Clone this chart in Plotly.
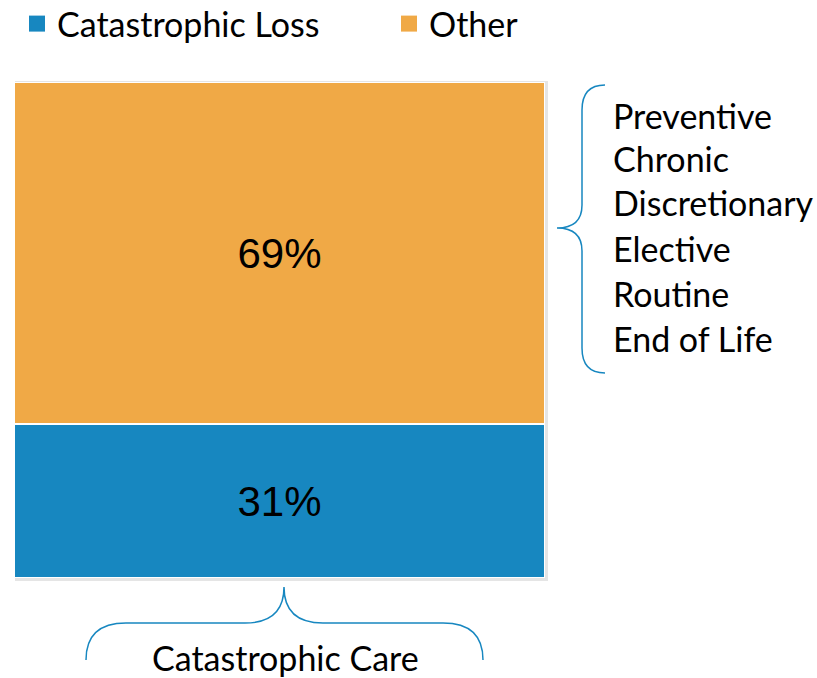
import plotly.graph_objects as go

categories = ["Spend"]
series_names = ["Catastrophic Loss", "Other"]
series_values = [31, 69]
series_colors = ["#1787C0", "#F0A946"]
other_items = ["Preventive", "Chronic", "Discretionary", "Elective", "Routine", "End of Life"]
bottom_label = "Catastrophic Care"

W, H = 817, 678
L, R, T, B = 14, 272, 82, 100
PW, PH = W - L - R, H - T - B

def px(x):
    return (x - L) / PW

def py(y):
    return (H - B - y) / PH

def path(cmds):
    out = []
    for c in cmds:
        if isinstance(c, str):
            out.append(c)
        else:
            out.append(f"{px(c[0]):.5f},{py(c[1]):.5f}")
    return " ".join(out)

FONT = "Lato, Open Sans"

fig = go.Figure()
for name, val, col in zip(series_names, series_values, series_colors):
    fig.add_trace(go.Bar(
        x=categories, y=[val], name=name, showlegend=False,
        marker=dict(color=col, line=dict(color="white", width=2)),
        text=[f"{val}%"], textposition="inside", insidetextanchor="middle",
        textfont=dict(family="Liberation Sans, Arial", size=42, color="black"),
        width=1, hoverinfo="skip",
    ))

legend_ids = ["legend", "legend2"]
legend_x = [17, 389]
for name, col, lid in zip(series_names, series_colors, legend_ids):
    fig.add_trace(go.Scatter(
        x=[None], y=[None], mode="markers", name=name, legend=lid,
        marker=dict(symbol="square", size=16, color=col),
    ))

shapes = [
    dict(type="rect", xref="paper", yref="paper", x0=px(15), x1=px(548), y0=py(81), y1=py(581),
         fillcolor="rgba(0,0,0,0.10)", line=dict(width=0), layer="below"),
    dict(type="path", xref="paper", yref="paper", layer="above",
         path=path(["M", (605, 85), "Q", (582, 85), (582, 110), "L", (582, 205),
                    "Q", (582, 228), (557, 228), "Q", (582, 228), (582, 251),
                    "L", (582, 348), "Q", (582, 373), (605, 373)]),
         line=dict(color="#1787C0", width=1.5)),
    dict(type="path", xref="paper", yref="paper", layer="above",
         path=path(["M", (86, 660), "Q", (86, 623), (126, 623), "L", (245, 623),
                    "Q", (284, 623), (284, 587), "Q", (284, 623), (323, 623),
                    "L", (443, 623), "Q", (483, 623), (483, 660)]),
         line=dict(color="#1787C0", width=1.5)),
]

annotations = []
line_y = [115, 158, 203, 248, 293, 338]
for item, yy in zip(other_items, line_y):
    annotations.append(dict(xref="paper", yref="paper", x=px(611), y=py(yy), text=item,
                            showarrow=False, xanchor="left", yanchor="middle",
                            font=dict(family=FONT, size=34, color="black")))
annotations.append(dict(xref="paper", yref="paper", x=px(285), y=py(657), text=bottom_label,
                        showarrow=False, xanchor="center", yanchor="middle",
                        font=dict(family=FONT, size=34, color="black")))

legend_common = dict(orientation="h", yanchor="middle", xanchor="left",
                     font=dict(family=FONT, size=34, color="black"),
                     bgcolor="rgba(0,0,0,0)", itemsizing="trace")

fig.update_layout(
    width=W, height=H,
    margin=dict(l=L, r=R, t=T, b=B, autoexpand=False),
    barmode="stack",
    paper_bgcolor="white", plot_bgcolor="white",
    xaxis=dict(visible=False, range=[-0.5, 0.5]),
    yaxis=dict(visible=False, range=[0, 100]),
    showlegend=True,
    legend=dict(x=px(legend_x[0]), y=py(24), **legend_common),
    legend2=dict(x=px(legend_x[1]), y=py(24), **legend_common),
    shapes=shapes, annotations=annotations,
)

fig.write_html("out.html", config={"displayModeBar": False},
               post_script="document.body.style.margin='0';document.body.style.overflow='hidden';")
